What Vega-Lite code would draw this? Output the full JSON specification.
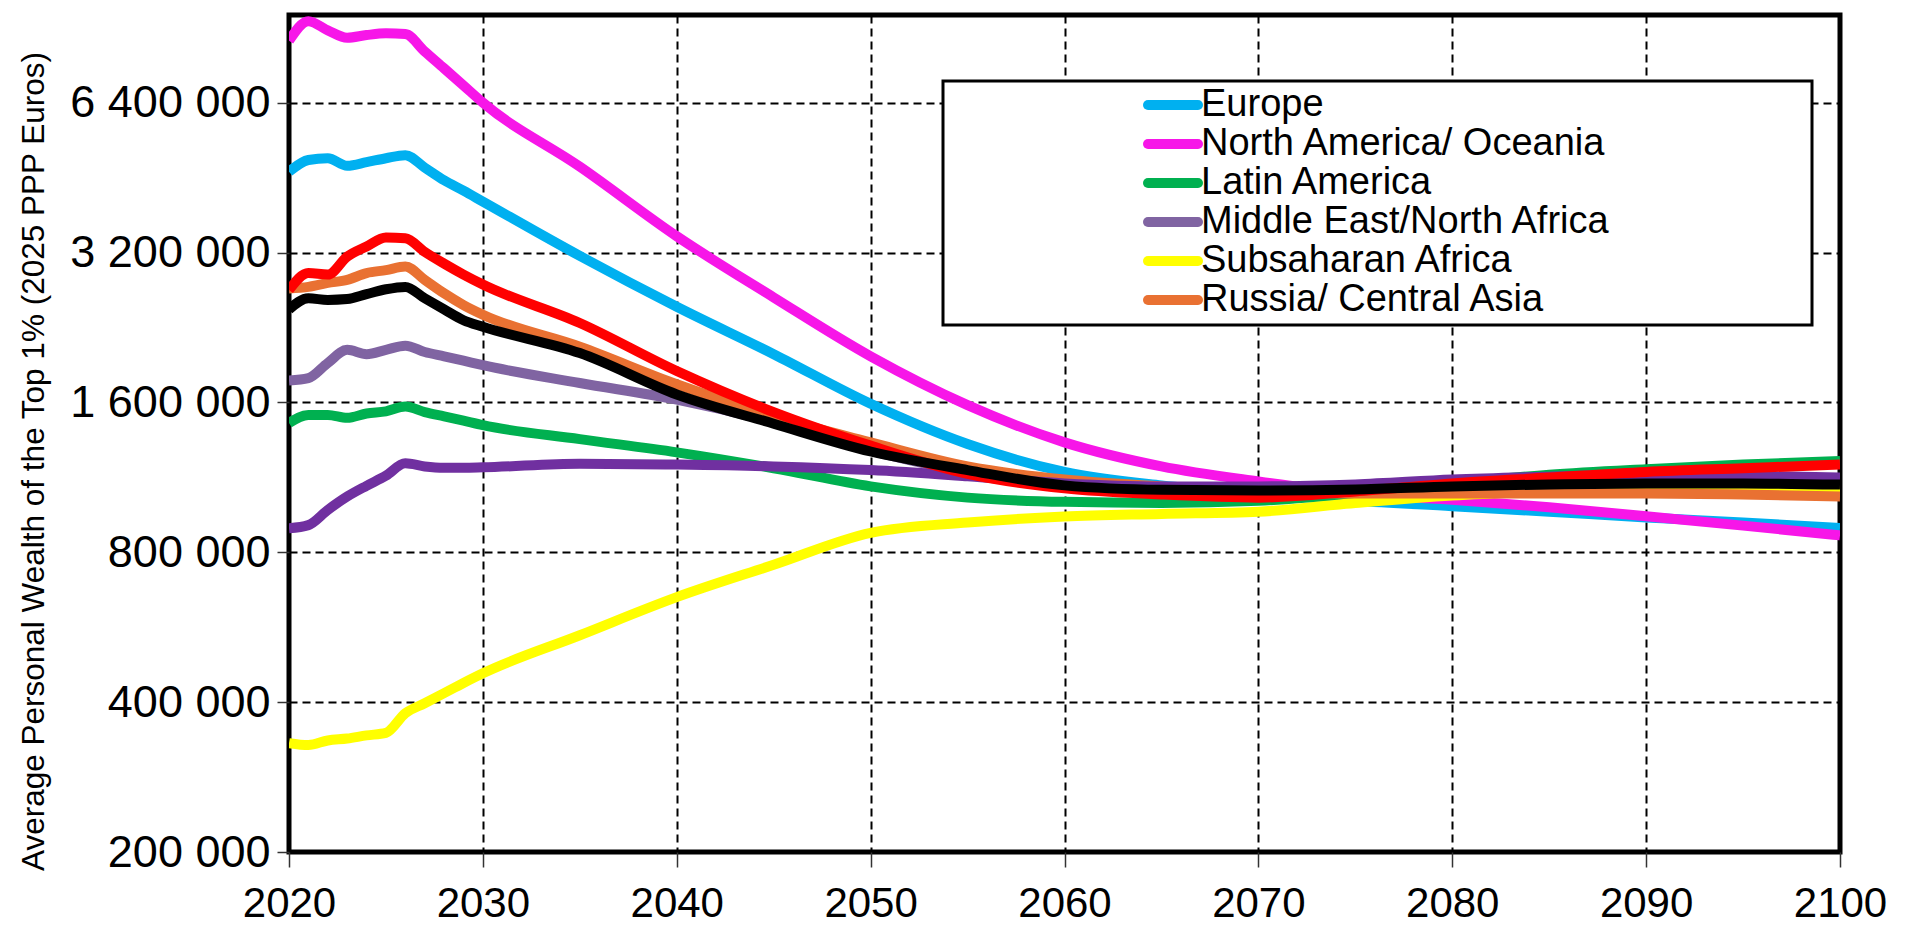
{
  "$schema": "https://vega.github.io/schema/vega-lite/v6.json",
  "width": 1551,
  "height": 837,
  "autosize": {"type": "none"},
  "padding": {"left": 289, "top": 15, "right": 66, "bottom": 74},
  "background": "white",
  "config": {
    "view": {"stroke": "black", "strokeWidth": 5},
    "font": "Liberation Sans"
  },
  "data": {"values": [
    {"region":"Europe","year":2020,"wealth":4650000},{"region":"Europe","year":2021,"wealth":4910000},{"region":"Europe","year":2022,"wealth":4950000},{"region":"Europe","year":2023,"wealth":4780000},{"region":"Europe","year":2024,"wealth":4860000},{"region":"Europe","year":2025,"wealth":4950000},{"region":"Europe","year":2026,"wealth":5020000},{"region":"Europe","year":2027,"wealth":4740000},{"region":"Europe","year":2028,"wealth":4470000},{"region":"Europe","year":2029,"wealth":4260000},{"region":"Europe","year":2030,"wealth":4050000},{"region":"Europe","year":2035,"wealth":3150000},{"region":"Europe","year":2040,"wealth":2490000},{"region":"Europe","year":2045,"wealth":2000000},{"region":"Europe","year":2050,"wealth":1590000},{"region":"Europe","year":2055,"wealth":1320000},{"region":"Europe","year":2060,"wealth":1160000},{"region":"Europe","year":2065,"wealth":1090000},{"region":"Europe","year":2070,"wealth":1050000},{"region":"Europe","year":2075,"wealth":1015000},{"region":"Europe","year":2080,"wealth":990000},{"region":"Europe","year":2085,"wealth":965000},{"region":"Europe","year":2090,"wealth":940000},{"region":"Europe","year":2095,"wealth":918000},{"region":"Europe","year":2100,"wealth":895000},
    {"region":"North America/ Oceania","year":2020,"wealth":8520000},{"region":"North America/ Oceania","year":2021,"wealth":9330000},{"region":"North America/ Oceania","year":2022,"wealth":8940000},{"region":"North America/ Oceania","year":2023,"wealth":8640000},{"region":"North America/ Oceania","year":2024,"wealth":8750000},{"region":"North America/ Oceania","year":2025,"wealth":8820000},{"region":"North America/ Oceania","year":2026,"wealth":8790000},{"region":"North America/ Oceania","year":2027,"wealth":8110000},{"region":"North America/ Oceania","year":2028,"wealth":7500000},{"region":"North America/ Oceania","year":2029,"wealth":6930000},{"region":"North America/ Oceania","year":2030,"wealth":6400000},{"region":"North America/ Oceania","year":2035,"wealth":4760000},{"region":"North America/ Oceania","year":2040,"wealth":3450000},{"region":"North America/ Oceania","year":2045,"wealth":2600000},{"region":"North America/ Oceania","year":2050,"wealth":1980000},{"region":"North America/ Oceania","year":2055,"wealth":1580000},{"region":"North America/ Oceania","year":2060,"wealth":1330000},{"region":"North America/ Oceania","year":2065,"wealth":1190000},{"region":"North America/ Oceania","year":2070,"wealth":1110000},{"region":"North America/ Oceania","year":2075,"wealth":1050000},{"region":"North America/ Oceania","year":2080,"wealth":1020000},{"region":"North America/ Oceania","year":2085,"wealth":985000},{"region":"North America/ Oceania","year":2090,"wealth":945000},{"region":"North America/ Oceania","year":2095,"wealth":905000},{"region":"North America/ Oceania","year":2100,"wealth":865000},
    {"region":"Latin America","year":2020,"wealth":1455000},{"region":"Latin America","year":2021,"wealth":1510000},{"region":"Latin America","year":2022,"wealth":1510000},{"region":"Latin America","year":2023,"wealth":1490000},{"region":"Latin America","year":2024,"wealth":1520000},{"region":"Latin America","year":2025,"wealth":1535000},{"region":"Latin America","year":2026,"wealth":1570000},{"region":"Latin America","year":2027,"wealth":1530000},{"region":"Latin America","year":2028,"wealth":1500000},{"region":"Latin America","year":2029,"wealth":1470000},{"region":"Latin America","year":2030,"wealth":1440000},{"region":"Latin America","year":2035,"wealth":1350000},{"region":"Latin America","year":2040,"wealth":1270000},{"region":"Latin America","year":2045,"wealth":1180000},{"region":"Latin America","year":2050,"wealth":1085000},{"region":"Latin America","year":2055,"wealth":1030000},{"region":"Latin America","year":2060,"wealth":1010000},{"region":"Latin America","year":2065,"wealth":1005000},{"region":"Latin America","year":2070,"wealth":1015000},{"region":"Latin America","year":2075,"wealth":1050000},{"region":"Latin America","year":2080,"wealth":1100000},{"region":"Latin America","year":2085,"wealth":1145000},{"region":"Latin America","year":2090,"wealth":1175000},{"region":"Latin America","year":2095,"wealth":1200000},{"region":"Latin America","year":2100,"wealth":1220000},
    {"region":"Middle East/North Africa","year":2020,"wealth":1770000},{"region":"Middle East/North Africa","year":2021,"wealth":1790000},{"region":"Middle East/North Africa","year":2022,"wealth":1920000},{"region":"Middle East/North Africa","year":2023,"wealth":2040000},{"region":"Middle East/North Africa","year":2024,"wealth":2000000},{"region":"Middle East/North Africa","year":2025,"wealth":2040000},{"region":"Middle East/North Africa","year":2026,"wealth":2080000},{"region":"Middle East/North Africa","year":2027,"wealth":2020000},{"region":"Middle East/North Africa","year":2028,"wealth":1980000},{"region":"Middle East/North Africa","year":2029,"wealth":1940000},{"region":"Middle East/North Africa","year":2030,"wealth":1900000},{"region":"Middle East/North Africa","year":2035,"wealth":1750000},{"region":"Middle East/North Africa","year":2040,"wealth":1620000},{"region":"Middle East/North Africa","year":2045,"wealth":1460000},{"region":"Middle East/North Africa","year":2050,"wealth":1280000},{"region":"Middle East/North Africa","year":2055,"wealth":1160000},{"region":"Middle East/North Africa","year":2060,"wealth":1100000},{"region":"Middle East/North Africa","year":2065,"wealth":1080000},{"region":"Middle East/North Africa","year":2070,"wealth":1070000},{"region":"Middle East/North Africa","year":2075,"wealth":1070000},{"region":"Middle East/North Africa","year":2080,"wealth":1080000},{"region":"Middle East/North Africa","year":2085,"wealth":1085000},{"region":"Middle East/North Africa","year":2090,"wealth":1090000},{"region":"Middle East/North Africa","year":2095,"wealth":1090000},{"region":"Middle East/North Africa","year":2100,"wealth":1090000},
    {"region":"Subsaharan Africa","year":2020,"wealth":331000},{"region":"Subsaharan Africa","year":2021,"wealth":328000},{"region":"Subsaharan Africa","year":2022,"wealth":335000},{"region":"Subsaharan Africa","year":2023,"wealth":338000},{"region":"Subsaharan Africa","year":2024,"wealth":343000},{"region":"Subsaharan Africa","year":2025,"wealth":347000},{"region":"Subsaharan Africa","year":2026,"wealth":380000},{"region":"Subsaharan Africa","year":2027,"wealth":398000},{"region":"Subsaharan Africa","year":2028,"wealth":417000},{"region":"Subsaharan Africa","year":2029,"wealth":437000},{"region":"Subsaharan Africa","year":2030,"wealth":457000},{"region":"Subsaharan Africa","year":2035,"wealth":545000},{"region":"Subsaharan Africa","year":2040,"wealth":650000},{"region":"Subsaharan Africa","year":2045,"wealth":755000},{"region":"Subsaharan Africa","year":2050,"wealth":875000},{"region":"Subsaharan Africa","year":2055,"wealth":918000},{"region":"Subsaharan Africa","year":2060,"wealth":944000},{"region":"Subsaharan Africa","year":2065,"wealth":955000},{"region":"Subsaharan Africa","year":2070,"wealth":965000},{"region":"Subsaharan Africa","year":2075,"wealth":1005000},{"region":"Subsaharan Africa","year":2080,"wealth":1040000},{"region":"Subsaharan Africa","year":2085,"wealth":1060000},{"region":"Subsaharan Africa","year":2090,"wealth":1075000},{"region":"Subsaharan Africa","year":2095,"wealth":1080000},{"region":"Subsaharan Africa","year":2100,"wealth":1080000},
    {"region":"Russia/ Central Asia","year":2020,"wealth":2710000},{"region":"Russia/ Central Asia","year":2021,"wealth":2730000},{"region":"Russia/ Central Asia","year":2022,"wealth":2780000},{"region":"Russia/ Central Asia","year":2023,"wealth":2820000},{"region":"Russia/ Central Asia","year":2024,"wealth":2910000},{"region":"Russia/ Central Asia","year":2025,"wealth":2950000},{"region":"Russia/ Central Asia","year":2026,"wealth":3000000},{"region":"Russia/ Central Asia","year":2027,"wealth":2820000},{"region":"Russia/ Central Asia","year":2028,"wealth":2650000},{"region":"Russia/ Central Asia","year":2029,"wealth":2510000},{"region":"Russia/ Central Asia","year":2030,"wealth":2400000},{"region":"Russia/ Central Asia","year":2035,"wealth":2070000},{"region":"Russia/ Central Asia","year":2040,"wealth":1740000},{"region":"Russia/ Central Asia","year":2045,"wealth":1500000},{"region":"Russia/ Central Asia","year":2050,"wealth":1330000},{"region":"Russia/ Central Asia","year":2055,"wealth":1190000},{"region":"Russia/ Central Asia","year":2060,"wealth":1120000},{"region":"Russia/ Central Asia","year":2065,"wealth":1085000},{"region":"Russia/ Central Asia","year":2070,"wealth":1065000},{"region":"Russia/ Central Asia","year":2075,"wealth":1050000},{"region":"Russia/ Central Asia","year":2080,"wealth":1050000},{"region":"Russia/ Central Asia","year":2085,"wealth":1050000},{"region":"Russia/ Central Asia","year":2090,"wealth":1050000},{"region":"Russia/ Central Asia","year":2095,"wealth":1045000},{"region":"Russia/ Central Asia","year":2100,"wealth":1035000},
    {"region":"Unlabelled (dark purple)","year":2020,"wealth":894000},{"region":"Unlabelled (dark purple)","year":2021,"wealth":907000},{"region":"Unlabelled (dark purple)","year":2022,"wealth":973000},{"region":"Unlabelled (dark purple)","year":2023,"wealth":1035000},{"region":"Unlabelled (dark purple)","year":2024,"wealth":1088000},{"region":"Unlabelled (dark purple)","year":2025,"wealth":1140000},{"region":"Unlabelled (dark purple)","year":2026,"wealth":1207000},{"region":"Unlabelled (dark purple)","year":2027,"wealth":1190000},{"region":"Unlabelled (dark purple)","year":2028,"wealth":1183000},{"region":"Unlabelled (dark purple)","year":2029,"wealth":1183000},{"region":"Unlabelled (dark purple)","year":2030,"wealth":1185000},{"region":"Unlabelled (dark purple)","year":2035,"wealth":1205000},{"region":"Unlabelled (dark purple)","year":2040,"wealth":1200000},{"region":"Unlabelled (dark purple)","year":2045,"wealth":1190000},{"region":"Unlabelled (dark purple)","year":2050,"wealth":1170000},{"region":"Unlabelled (dark purple)","year":2055,"wealth":1137000},{"region":"Unlabelled (dark purple)","year":2060,"wealth":1100000},{"region":"Unlabelled (dark purple)","year":2065,"wealth":1085000},{"region":"Unlabelled (dark purple)","year":2070,"wealth":1085000},{"region":"Unlabelled (dark purple)","year":2075,"wealth":1095000},{"region":"Unlabelled (dark purple)","year":2080,"wealth":1120000},{"region":"Unlabelled (dark purple)","year":2085,"wealth":1135000},{"region":"Unlabelled (dark purple)","year":2090,"wealth":1145000},{"region":"Unlabelled (dark purple)","year":2095,"wealth":1140000},{"region":"Unlabelled (dark purple)","year":2100,"wealth":1130000},
    {"region":"Unlabelled (red)","year":2020,"wealth":2690000},{"region":"Unlabelled (red)","year":2021,"wealth":2910000},{"region":"Unlabelled (red)","year":2022,"wealth":2890000},{"region":"Unlabelled (red)","year":2023,"wealth":3140000},{"region":"Unlabelled (red)","year":2024,"wealth":3290000},{"region":"Unlabelled (red)","year":2025,"wealth":3430000},{"region":"Unlabelled (red)","year":2026,"wealth":3420000},{"region":"Unlabelled (red)","year":2027,"wealth":3210000},{"region":"Unlabelled (red)","year":2028,"wealth":3040000},{"region":"Unlabelled (red)","year":2029,"wealth":2890000},{"region":"Unlabelled (red)","year":2030,"wealth":2760000},{"region":"Unlabelled (red)","year":2035,"wealth":2310000},{"region":"Unlabelled (red)","year":2040,"wealth":1850000},{"region":"Unlabelled (red)","year":2045,"wealth":1530000},{"region":"Unlabelled (red)","year":2050,"wealth":1310000},{"region":"Unlabelled (red)","year":2055,"wealth":1150000},{"region":"Unlabelled (red)","year":2060,"wealth":1075000},{"region":"Unlabelled (red)","year":2065,"wealth":1045000},{"region":"Unlabelled (red)","year":2070,"wealth":1030000},{"region":"Unlabelled (red)","year":2075,"wealth":1060000},{"region":"Unlabelled (red)","year":2080,"wealth":1100000},{"region":"Unlabelled (red)","year":2085,"wealth":1130000},{"region":"Unlabelled (red)","year":2090,"wealth":1160000},{"region":"Unlabelled (red)","year":2095,"wealth":1180000},{"region":"Unlabelled (red)","year":2100,"wealth":1200000},
    {"region":"Unlabelled (black)","year":2020,"wealth":2460000},{"region":"Unlabelled (black)","year":2021,"wealth":2590000},{"region":"Unlabelled (black)","year":2022,"wealth":2570000},{"region":"Unlabelled (black)","year":2023,"wealth":2580000},{"region":"Unlabelled (black)","year":2024,"wealth":2640000},{"region":"Unlabelled (black)","year":2025,"wealth":2700000},{"region":"Unlabelled (black)","year":2026,"wealth":2730000},{"region":"Unlabelled (black)","year":2027,"wealth":2590000},{"region":"Unlabelled (black)","year":2028,"wealth":2460000},{"region":"Unlabelled (black)","year":2029,"wealth":2340000},{"region":"Unlabelled (black)","year":2030,"wealth":2270000},{"region":"Unlabelled (black)","year":2035,"wealth":2010000},{"region":"Unlabelled (black)","year":2040,"wealth":1660000},{"region":"Unlabelled (black)","year":2045,"wealth":1450000},{"region":"Unlabelled (black)","year":2050,"wealth":1275000},{"region":"Unlabelled (black)","year":2055,"wealth":1170000},{"region":"Unlabelled (black)","year":2060,"wealth":1090000},{"region":"Unlabelled (black)","year":2065,"wealth":1068000},{"region":"Unlabelled (black)","year":2070,"wealth":1065000},{"region":"Unlabelled (black)","year":2075,"wealth":1070000},{"region":"Unlabelled (black)","year":2080,"wealth":1085000},{"region":"Unlabelled (black)","year":2085,"wealth":1095000},{"region":"Unlabelled (black)","year":2090,"wealth":1100000},{"region":"Unlabelled (black)","year":2095,"wealth":1100000},{"region":"Unlabelled (black)","year":2100,"wealth":1094000}
  ]},
  "mark": {"type": "line", "strokeWidth": 10, "strokeJoin": "round", "interpolate": "monotone", "clip": true},
  "encoding": {
    "x": {
      "field": "year", "type": "quantitative",
      "scale": {"domain": [2020, 2100], "nice": false, "zero": false},
      "axis": {
        "values": [2020, 2030, 2040, 2050, 2060, 2070, 2080, 2090, 2100],
        "format": "d", "title": null,
        "labelFont": "Liberation Sans", "labelFontSize": 42, "labelColor": "black",
        "labelFlush": false, "labelOverlap": false, "labelPadding": 16,
        "tickSize": 15, "tickColor": "#333333", "tickWidth": 1.5,
        "domain": false,
        "grid": true, "gridColor": "black", "gridDash": [8, 5], "gridWidth": 2
      }
    },
    "y": {
      "field": "wealth", "type": "quantitative",
      "scale": {"type": "log", "base": 2, "domain": [200000, 9600000], "nice": false},
      "axis": {
        "values": [200000, 400000, 800000, 1600000, 3200000, 6400000],
        "labelExpr": "replace(replace(format(datum.value, ','), ',', ' '), ',', ' ')",
        "title": "Average Personal Wealth of the Top 1% (2025 PPP Euros)",
        "titleFont": "Liberation Sans", "titleFontSize": 31.5, "titleFontWeight": "normal", "titleColor": "black",
        "titleAngle": 270, "titleAlign": "center", "titleBaseline": "middle",
        "titleX": -255, "titleY": 446,
        "labelFont": "Liberation Sans", "labelFontSize": 45, "labelColor": "black", "labelPadding": 7,
        "labelLimit": 1000, "labelOverlap": false, "labelFlush": false,
        "tickSize": 12, "tickColor": "#333333", "tickWidth": 1.5,
        "domain": false,
        "grid": true, "gridColor": "black", "gridDash": [8, 5], "gridWidth": 2
      }
    },
    "color": {
      "field": "region", "type": "nominal", "sort": null,
      "scale": {
        "domain": ["Europe", "North America/ Oceania", "Latin America", "Middle East/North Africa", "Subsaharan Africa", "Russia/ Central Asia", "Unlabelled (dark purple)", "Unlabelled (red)", "Unlabelled (black)"],
        "range": ["#00B0F0", "#F716E8", "#00B050", "#8064A2", "#FFFF00", "#E97132", "#7030A0", "#FF0000", "#000000"]
      },
      "legend": {
        "title": null,
        "values": ["Europe", "North America/ Oceania", "Latin America", "Middle East/North Africa", "Subsaharan Africa", "Russia/ Central Asia"],
        "orient": "none", "legendX": 654, "legendY": 66, "direction": "vertical",
        "symbolType": "M-2.5,0H2.5", "symbolSize": 400, "symbolStrokeWidth": 10, "symbolOffset": 206,
        "labelFont": "Liberation Sans", "labelFontSize": 38, "labelColor": "black", "labelLimit": 2000, "labelOffset": 9,
        "labelExpr": "datum.label + '\u2800\u2800\u2800\u2800\u2800\u2800\u2800'",
        "padding": 5, "rowPadding": -4,
        "strokeColor": "black", "fillColor": "white",
        "encode": {
          "legend": {"update": {"strokeWidth": {"value": 3}}},
          "symbols": {"update": {"strokeCap": {"value": "round"}, "fill": {"value": "transparent"}}}
        }
      }
    }
  }
}
